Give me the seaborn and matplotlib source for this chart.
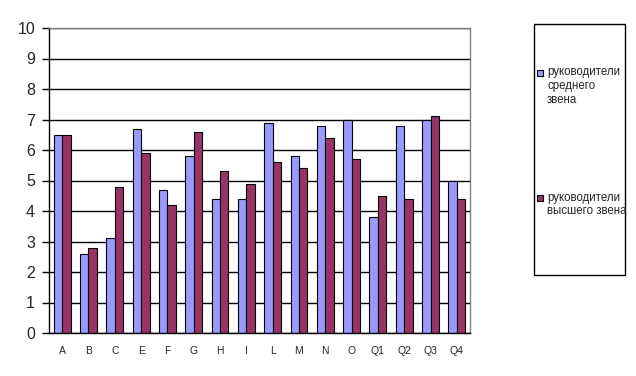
import matplotlib
matplotlib.use("Agg")
import matplotlib.pyplot as plt
import seaborn as sns
import pandas as pd
import numpy as np
from matplotlib.patches import Rectangle

categories = ["A", "B", "C", "E", "F", "G", "H", "I", "L", "M", "N", "O", "Q1", "Q2", "Q3", "Q4"]
middle = [6.5, 2.6, 3.1, 6.7, 4.7, 5.8, 4.4, 4.4, 6.9, 5.8, 6.8, 7.0, 3.8, 6.8, 7.0, 5.0]
senior = [6.5, 2.8, 4.8, 5.9, 4.2, 6.6, 5.3, 4.9, 5.6, 5.4, 6.4, 5.7, 4.5, 4.4, 7.1, 4.4]
series_names = ["руководители\nсреднего\nзвена", "руководители\nвысшего звена"]
colors = ["#9999FF", "#993366"]
yticks = list(range(0, 11))

df = pd.DataFrame({
    "cat": categories * 2,
    "val": middle + senior,
    "series": [series_names[0]] * len(categories) + [series_names[1]] * len(categories),
})

sns.set_style("white")
plt.rcParams["font.family"] = ["Liberation Sans", "DejaVu Sans"]

W, H = 636, 376
fig = plt.figure(figsize=(W / 100, H / 100), dpi=100)
ax = fig.add_axes([49 / W, 43 / H, 421 / W, 305 / H])

sns.barplot(data=df, x="cat", y="val", hue="series", order=categories,
            hue_order=series_names, palette=colors, width=0.64, gap=0,
            edgecolor="black", linewidth=0.8, saturation=1, ax=ax, legend=False)

ax.set_xlim(-0.5, len(categories) - 0.5)
ax.set_ylim(0, 10)
ax.set_yticks(yticks)
ax.set_yticklabels([str(t) for t in yticks], fontsize=11.5)
ax.yaxis.grid(True, color="black", linewidth=1)
ax.set_axisbelow(True)
ax.set_xlabel("")
ax.set_ylabel("")

ax.set_xticks(np.arange(len(categories)))
ax.set_xticklabels(categories, fontsize=7.5)
ax.tick_params(axis="x", which="major", length=0, pad=9)
ax.set_xticks(np.arange(len(categories) + 1) - 0.5, minor=True)
ax.tick_params(axis="x", which="minor", length=4, width=1, color="black", direction="out")
ax.tick_params(axis="y", length=5, width=1, color="black", direction="out", pad=5, left=True)

for s in ["top", "right"]:
    ax.spines[s].set_color("#808080")
    ax.spines[s].set_linewidth(1)
    ax.spines[s].set_visible(True)
for s in ["left", "bottom"]:
    ax.spines[s].set_color("black")
    ax.spines[s].set_linewidth(1)
    ax.spines[s].set_visible(True)

# legend box
fig.patches.append(Rectangle((534 / W, 1 - 275 / H), 91 / W, 251 / H,
                             transform=fig.transFigure, fill=False,
                             edgecolor="black", linewidth=1))
first_line_y = [73, 198]
for name, col, yc in zip(series_names, colors, first_line_y):
    fig.patches.append(Rectangle((537 / W, 1 - (yc + 3) / H), 6 / W, 6 / H,
                                 transform=fig.transFigure, facecolor=col,
                                 edgecolor="black", linewidth=0.8))
    fig.text(547 / W, 1 - (yc - 6.5) / H, name, fontsize=8.3, va="top", ha="left",
             linespacing=1.22)

fig.savefig("out.png", dpi=100)
